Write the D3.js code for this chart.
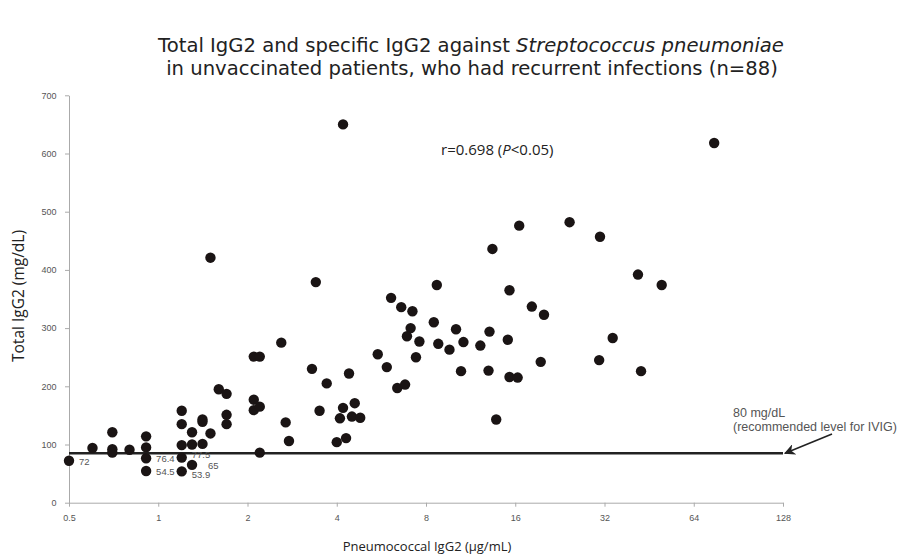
<!DOCTYPE html>
<html>
<head>
<meta charset="utf-8">
<script src="https://cdn.jsdelivr.net/npm/d3@7/dist/d3.min.js"></script>
<style>
  html, body { margin: 0; padding: 0; background: #fff; }
  svg { display: block; }
</style>
</head>
<body>
<div id="chart"></div>
<script>
// ---- data ----
const pneumoIgG2 = [
  0.5, 0.6, 0.70, 0.70, 0.70, 0.80, 0.91, 0.91, 0.91, 0.91,
  1.2, 1.2, 1.2, 1.2, 1.2, 1.3, 1.3, 1.3, 1.41, 1.41,
  1.5, 1.6, 1.7, 1.7, 1.7, 2.1, 2.1, 2.2, 2.2, 2.69,
  2.76, 1.5, 3.4, 2.6, 2.1, 2.2, 3.3, 3.7, 4.4, 3.5,
  4.2, 4.1, 4.5, 4.0, 4.3, 4.8, 4.6, 6.1, 6.6, 7.2,
  8.5, 10.1, 13.1, 7.1, 6.9, 7.6, 8.8, 9.6, 10.7, 12.2,
  5.5, 5.9, 7.4, 10.5, 13.0, 6.4, 6.8, 13.8, 16.5, 30.9,
  13.4, 8.7, 15.3, 41.5, 49.9, 18.2, 20.0, 15.1, 34.1, 15.3,
  16.3, 19.5, 30.7, 42.5, 75, 4.2, 24.4, 1.41
];
const totalIgG2 = [
  72, 94, 121, 92, 86, 91, 114, 95, 76.4, 54.5,
  158, 135, 99, 77.5, 53.9, 121, 100, 65, 143, 101,
  119, 195, 187, 151, 135, 177, 159, 165, 86, 138,
  106, 421, 379, 275, 251, 251, 230, 205, 222, 158,
  163, 145, 148, 104, 111, 146, 171, 352, 336, 329,
  310, 298, 294, 300, 286, 277, 273, 263, 276, 270,
  255, 233, 250, 226, 227, 197, 203, 143, 476, 457,
  436, 374, 365, 392, 374, 337, 323, 280, 283, 216,
  215, 242, 245, 226, 618, 650, 482, 139
];
const labelledValues = [72, 76.4, 54.5, 77.5, 65, 53.9];
const xTicks = [0.5, 1, 2, 4, 8, 16, 32, 64, 128];
const xTickLabels = ["0.5", "1", "2", "4", "8", "16", "32", "64", "128"];
const yTicks = [0, 100, 200, 300, 400, 500, 600, 700];
const referenceLevel = 85;
const referenceText = ["80 mg/dL", "(recommended level for IVIG)"];
const titleLines = ["Total IgG2 and specific IgG2 against ", "Streptococcus pneumoniae", "in unvaccinated patients, who had recurrent infections (n=88)"];
const corrText = ["r=0.698 (", "P", "<0.05)"];

// ---- chart ----
const W = 897, H = 558;
const svg = d3.select("#chart").append("svg").attr("width", W).attr("height", H);

const x = d3.scaleLog().base(2).domain([0.5, 128]).range([69, 783]);
const y = d3.scaleLinear().domain([0, 700]).range([502.7, 95.3]);

// title
const titleFont = "DejaVu Sans, Verdana, sans-serif";
const title = svg.append("text").attr("x", 471).attr("y", 52)
  .attr("text-anchor", "middle").attr("font-family", titleFont)
  .attr("font-size", 19.6).attr("fill", "#222");
title.append("tspan").text(titleLines[0]);
title.append("tspan").attr("font-style", "italic").text(titleLines[1]);
svg.append("text").attr("x", 472).attr("y", 75)
  .attr("text-anchor", "middle").attr("font-family", titleFont)
  .attr("font-size", 19.6).attr("fill", "#222").text(titleLines[2]);

// axes
const tickFont = "'Liberation Sans Narrow', 'Liberation Sans', Arial, sans-serif";
const xAxis = svg.append("g").attr("transform", `translate(0,${y(0)})`)
  .call(d3.axisBottom(x).tickValues(xTicks).tickFormat((d, i) => xTickLabels[i]).tickSize(4).tickSizeOuter(0));
const yAxis = svg.append("g").attr("transform", `translate(${x(0.5)},0)`)
  .call(d3.axisLeft(y).tickValues(yTicks).tickSize(4).tickSizeOuter(0));
[xAxis, yAxis].forEach(g => {
  g.select(".domain").attr("stroke", "#aaa").attr("stroke-width", 1);
  g.selectAll(".tick line").attr("stroke", "#aaa");
  g.selectAll(".tick text").attr("fill", "#555").attr("font-size", 9).attr("font-family", tickFont);
});
xAxis.selectAll(".tick text").attr("dy", "1.3em");
yAxis.selectAll(".tick text").attr("dx", "-0.6em");

// axis titles
svg.append("text").attr("transform", `translate(24,296) rotate(-90)`)
  .attr("text-anchor", "middle").attr("font-family", "'Open Sans', sans-serif")
  .attr("font-size", 15.5).attr("fill", "#222").text("Total IgG2 (mg/dL)");
svg.append("text").attr("x", 427).attr("y", 551)
  .attr("text-anchor", "middle").attr("font-family", "'Open Sans', sans-serif")
  .attr("font-size", 13).attr("fill", "#222").text("Pneumococcal IgG2 (μg/mL)");

// reference line
svg.append("line")
  .attr("x1", x(0.5)).attr("x2", x(128))
  .attr("y1", y(referenceLevel)).attr("y2", y(referenceLevel))
  .attr("stroke", "#222").attr("stroke-width", 2.5);

// arrow
svg.append("defs").append("marker").attr("id", "arrow")
  .attr("viewBox", "0 0 10 10").attr("refX", 9).attr("refY", 5)
  .attr("markerWidth", 7).attr("markerHeight", 7).attr("orient", "auto")
  .append("path").attr("d", "M0,0 L10,5 L0,10 L3,5 Z").attr("fill", "#222");
svg.append("line")
  .attr("x1", 832).attr("y1", 434)
  .attr("x2", x(128) + 2).attr("y2", y(referenceLevel))
  .attr("stroke", "#222").attr("stroke-width", 1.6).attr("marker-end", "url(#arrow)");

const ann = svg.append("text").attr("font-family", tickFont).attr("font-size", 12.5).attr("fill", "#555");
ann.append("tspan").attr("x", 733).attr("y", 417).text(referenceText[0]);
ann.append("tspan").attr("x", 733).attr("y", 431).text(referenceText[1]);

// correlation text
const corr = svg.append("text").attr("x", 441).attr("y", 155)
  .attr("font-family", "'Open Sans', sans-serif").attr("font-size", 15).attr("fill", "#222");
corr.append("tspan").text(corrText[0]);
corr.append("tspan").attr("font-style", "italic").text(corrText[1]);
corr.append("tspan").text(corrText[2]);

// points
const pts = pneumoIgG2.map((v, i) => ({ x: v, y: totalIgG2[i] }));
svg.append("g").selectAll("circle").data(pts).join("circle")
  .attr("cx", d => x(d.x)).attr("cy", d => y(d.y)).attr("r", 5.2)
  .attr("fill", "#1a1414");

// value labels
const labelShift = { "77.5": [10, 0], "65": [16, 4], "53.9": [10, 7] };
svg.append("g").selectAll("text")
  .data(pts.filter(d => labelledValues.includes(d.y)))
  .join("text")
  .attr("x", d => x(d.x) + (labelShift[d.y] ? labelShift[d.y][0] : 10))
  .attr("y", d => y(d.y) + (labelShift[d.y] ? labelShift[d.y][1] : 4))
  .attr("font-family", tickFont).attr("font-size", 9.5).attr("fill", "#555")
  .text(d => String(d.y));
</script>
</body>
</html>
